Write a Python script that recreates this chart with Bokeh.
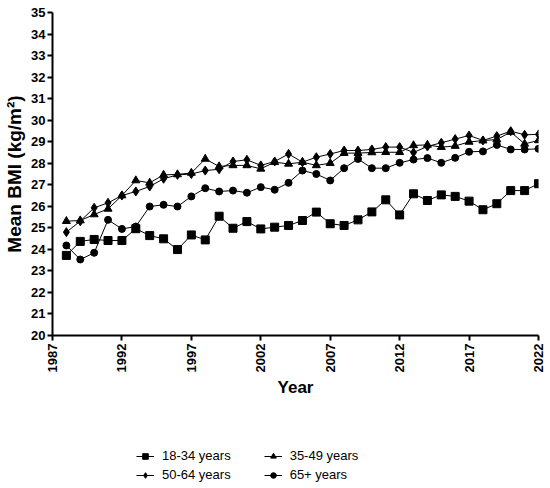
from bokeh.plotting import figure
from bokeh.models import Legend, LegendItem, FixedTicker, Range1d
from bokeh.layouts import column
from bokeh.embed import file_html
from bokeh.resources import INLINE
import math

years = list(range(1988, 2023))
bmi_18_34 = [23.72, 24.37, 24.46, 24.41, 24.41, 24.96, 24.64, 24.49, 23.99, 24.67,
             24.44, 25.54, 24.98, 25.29, 24.95, 25.03, 25.11, 25.34, 25.73, 25.19,
             25.11, 25.37, 25.74, 26.30, 25.60, 26.58, 26.27, 26.53, 26.46, 26.24,
             25.84, 26.12, 26.73, 26.73, 27.05]
bmi_35_49 = [25.31, 25.34, 25.62, 25.88, 26.50, 27.20, 27.09, 27.46, 27.48, 27.55,
             28.20, 27.85, 27.90, 27.90, 27.74, 28.05, 27.97, 28.05, 27.90, 28.00,
             28.47, 28.47, 28.50, 28.51, 28.51, 28.83, 28.85, 28.75, 28.80, 28.99,
             29.05, 29.10, 29.45, 28.90, 29.06]
bmi_50_64 = [24.80, 25.31, 25.93, 26.16, 26.50, 26.69, 26.92, 27.28, 27.46, 27.50,
             27.66, 27.72, 28.08, 28.16, 27.90, 28.08, 28.43, 28.05, 28.28, 28.43,
             28.59, 28.59, 28.64, 28.75, 28.75, 28.50, 28.78, 28.95, 29.12, 29.29,
             29.06, 29.26, 29.49, 29.32, 29.34]
bmi_65_plus = [24.18, 23.53, 23.84, 25.37, 24.95, 25.06, 25.99, 26.07, 25.99, 26.46,
               26.84, 26.69, 26.73, 26.63, 26.89, 26.77, 27.09, 27.66, 27.50, 27.20,
               27.77, 28.20, 27.77, 27.77, 28.02, 28.17, 28.24, 28.02, 28.25, 28.53,
               28.55, 28.85, 28.64, 28.64, 28.67]
series_labels = ["18-34 years", "35-49 years", "50-64 years", "65+ years"]
x_ticks = [1987, 1992, 1997, 2002, 2007, 2012, 2017, 2022]
y_ticks = list(range(20, 36))

FONT = "Liberation Sans"
W = 546

p = figure(width=W, height=408, output_backend="svg", toolbar_location=None,
           x_range=Range1d(1987, 2022), y_range=Range1d(20, 35),
           min_border_left=52, min_border_right=8, min_border_top=12, min_border_bottom=73)
p.outline_line_color = None
p.xgrid.visible = False
p.ygrid.visible = False

for ax in (p.xaxis[0], p.yaxis[0]):
    ax.axis_line_width = 2
    ax.major_tick_line_width = 2
    ax.major_tick_in = 0
    ax.major_tick_out = 5
    ax.minor_tick_line_color = None
    ax.major_label_text_font = FONT
    ax.major_label_text_font_style = "bold"
    ax.major_label_text_font_size = "13px"
    ax.major_label_text_color = "black"
    ax.axis_label_text_font = FONT
    ax.axis_label_text_font_style = "bold"
    ax.axis_label_text_color = "black"

p.xaxis.axis_label_text_font_size = "17px"
p.yaxis.axis_label_text_font_size = "19px"
p.xaxis.ticker = FixedTicker(ticks=x_ticks)
p.yaxis.ticker = FixedTicker(ticks=y_ticks)
p.xaxis.major_label_orientation = math.pi / 2
p.xaxis.axis_label = "Year"
p.yaxis.axis_label = "Mean BMI (kg/m²)"
p.xaxis.axis_label_standoff = 3
p.yaxis.axis_label_standoff = 3
p.xaxis.major_label_standoff = 3
p.yaxis.major_label_standoff = 2

lw = 1
styles = [("square", 8), ("triangle", 8), ("diamond", 9), ("circle", 7)]
data = [bmi_18_34, bmi_35_49, bmi_50_64, bmi_65_plus]
for vals, (mk, sz) in zip(data, styles):
    p.line(years, vals, line_color="black", line_width=lw)
    p.scatter(years, vals, marker=mk, size=sz, color="black")

# legend strip below the chart (its proxy glyphs fall outside its visible ranges)
H2 = 78
p2 = figure(width=W, height=H2, output_backend="svg", toolbar_location=None,
            x_range=Range1d(1987, 2022), y_range=Range1d(0, 1),
            x_axis_type=None, y_axis_type=None, min_border=0)
p2.outline_line_color = None
p2.xgrid.visible = False
p2.ygrid.visible = False

items = []
for lab, vals, (mk, sz) in zip(series_labels, data, styles):
    rl = p2.line(years, vals, line_color="black", line_width=lw)
    rm = p2.scatter(years, vals, marker=mk, size=sz - 1, color="black")
    items.append(LegendItem(label=lab, renderers=[rl, rm]))


def make_legend(its, loc):
    lg = Legend(items=its, orientation="horizontal", location=loc)
    lg.border_line_color = None
    lg.background_fill_alpha = 0
    lg.label_text_font = FONT
    lg.label_text_font_size = "13px"
    lg.label_text_color = "black"
    lg.glyph_width = 18
    lg.glyph_height = 14
    lg.label_height = 14
    lg.spacing = 33
    lg.padding = 0
    lg.margin = 0
    lg.label_standoff = 8
    return lg


p2.add_layout(make_legend(items[:2], (84, 23)))
p2.add_layout(make_legend(items[2:], (84, 4)))

open("out.html", "w").write(file_html(column(p, p2), INLINE))
